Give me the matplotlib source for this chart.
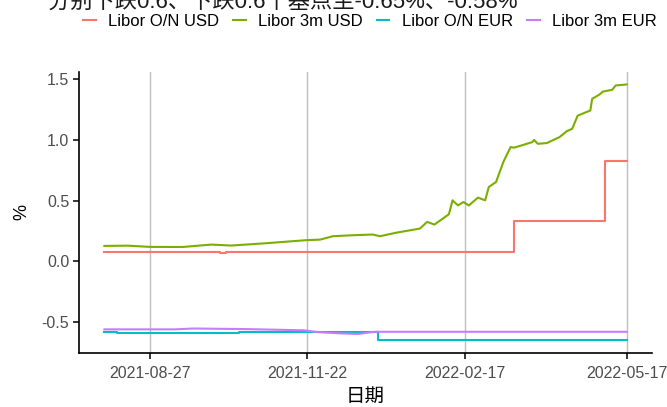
import numpy as np
import matplotlib
matplotlib.use("Agg")
import matplotlib.pyplot as plt

plt.rcParams["font.family"] = ["Liberation Sans", "Noto Sans CJK SC", "DejaVu Sans"]

# ---- data ----
on_usd_dates = ["2021-08-02", "2021-08-30", "2021-10-05", "2021-10-08", "2021-11-05",
                "2021-12-01", "2022-01-10", "2022-03-16", "2022-05-05", "2022-05-17"]
on_usd_vals = [0.077, 0.073, 0.071, 0.073, 0.074, 0.076, 0.077, 0.329, 0.825, 0.825]

m3_usd_dates = ["2021-08-02", "2021-08-15", "2021-08-27", "2021-09-14", "2021-09-30",
                "2021-10-11", "2021-10-30", "2021-11-21", "2021-11-29", "2021-12-06",
                "2021-12-17", "2021-12-28", "2022-01-01", "2022-01-10", "2022-01-23",
                "2022-01-27", "2022-01-31", "2022-02-08", "2022-02-10", "2022-02-13",
                "2022-02-16", "2022-02-19", "2022-02-24", "2022-02-28", "2022-03-02",
                "2022-03-06", "2022-03-10", "2022-03-14", "2022-03-16", "2022-03-26",
                "2022-03-27", "2022-03-29", "2022-04-03", "2022-04-10", "2022-04-14",
                "2022-04-17", "2022-04-20", "2022-04-27", "2022-04-28", "2022-05-02",
                "2022-05-04", "2022-05-09", "2022-05-11", "2022-05-17"]
m3_usd_vals = [0.126, 0.128, 0.118, 0.117, 0.137,
               0.129, 0.148, 0.173, 0.178, 0.206,
               0.214, 0.220, 0.206, 0.235, 0.269,
               0.324, 0.302, 0.387, 0.502, 0.460,
               0.488, 0.460, 0.524, 0.502, 0.612,
               0.653, 0.817, 0.941, 0.936, 0.982,
               1.000, 0.968, 0.974, 1.023, 1.072,
               1.092, 1.200, 1.243, 1.339, 1.374,
               1.399, 1.413, 1.449, 1.457]

on_eur_dates = ["2021-08-02", "2021-08-09", "2021-09-20", "2021-10-15", "2021-11-22",
                "2021-12-10", "2021-12-30", "2021-12-31", "2022-05-17"]
on_eur_vals = [-0.583, -0.588, -0.588, -0.585, -0.583, -0.585, -0.585, -0.650, -0.650]

m3_eur_dates = ["2021-08-02", "2021-09-10", "2021-09-20", "2021-10-20", "2021-11-20",
                "2021-11-28", "2021-12-10", "2021-12-20", "2021-12-29", "2022-05-17"]
m3_eur_vals = [-0.562, -0.562, -0.555, -0.560, -0.570, -0.585, -0.595, -0.600, -0.582, -0.582]

series = [("Libor O/N USD", on_usd_dates, on_usd_vals, "#F8766D", "steps-post"),
          ("Libor 3m USD", m3_usd_dates, m3_usd_vals, "#7CAE00", "default"),
          ("Libor O/N EUR", on_eur_dates, on_eur_vals, "#00BFC4", "steps-post"),
          ("Libor 3m EUR", m3_eur_dates, m3_eur_vals, "#C77CFF", "default")]

x_ticks = ["2021-08-27", "2021-11-22", "2022-02-17", "2022-05-17"]
title = "分别下跌0.6、下跌0.6个基点至-0.65%、-0.58%"

# ---- figure ----
W, H = 667, 407
fig = plt.figure(figsize=(W / 100, H / 100), dpi=100)
ax = fig.add_axes([79 / W, 1 - 353 / H, (652 - 79) / W, (353 - 72) / H])

for name, d, v, col, ds in series:
    ax.plot(np.array(d, dtype="datetime64[D]"), v, color=col, lw=1.5,
            drawstyle=ds, label=name)

ax.set_xlim(np.datetime64("2021-07-19"), np.datetime64("2022-05-31"))
ax.set_ylim(-0.757, 1.56)
ax.set_yticks([-0.5, 0.0, 0.5, 1.0, 1.5])
ax.set_yticklabels(["-0.5", "0.0", "0.5", "1.0", "1.5"])
ax.set_xticks(np.array(x_ticks, dtype="datetime64[D]"))
ax.set_xticklabels(x_ticks)

ax.grid(True, axis="x", color="#BEBEBE", lw=1.0)
ax.set_axisbelow(True)
for s in ("top", "right"):
    ax.spines[s].set_visible(False)
for s in ("left", "bottom"):
    ax.spines[s].set_linewidth(1.2)
    ax.spines[s].set_color("black")
ax.tick_params(axis="both", direction="out", length=4, width=1.1, color="black",
               labelsize=11.5, labelcolor="#4D4D4D")
ax.tick_params(axis="x", pad=5)
ax.tick_params(axis="y", pad=3)

ax.set_xlabel("日期", fontsize=14, labelpad=6)
ax.set_ylabel("%", fontsize=13, labelpad=8)

fig.legend(loc="center left", bbox_to_anchor=(83 / W, 1 - 21 / H), ncol=4,
           frameon=False, fontsize=12, handlelength=0.75, handletextpad=0.75,
           columnspacing=0.85, borderpad=0, borderaxespad=0)

# the reference shows only the lower part of this title line (clipped at the top)
fig.text(48 / W, 1 - 9 / H, title, fontsize=16, ha="left", va="baseline",
         color="#1A1A1A")

fig.savefig("out.png", dpi=100)
